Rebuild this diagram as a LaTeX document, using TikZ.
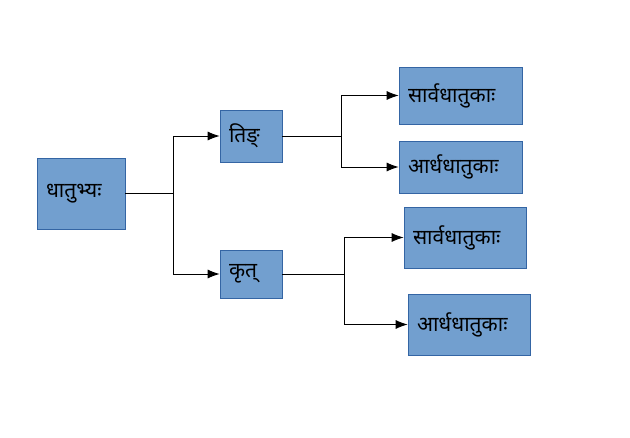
\documentclass[tikz,border=0pt]{standalone}
\usepackage{fontspec}
\newfontfamily\devfont[Script=Devanagari]{Noto Sans}
\usetikzlibrary{positioning,arrows.meta}

\definecolor{boxfill}{HTML}{729FCF}
\definecolor{boxline}{HTML}{3465A4}

\begin{document}
\begin{tikzpicture}[
  x=1pt,y=-1pt,
  box/.style={rectangle,draw=boxline,fill=boxfill,line width=0.6pt,inner xsep=9pt,align=left,font=\devfont\fontsize{21}{24}\selectfont},
  arrow/.style={-{Latex[length=12pt,width=9pt]},line width=0.9pt},
  link/.style={line width=0.9pt},
]
\useasboundingbox (0,0) rectangle (630,438);

% === ROOT ===
\node[box,text width=70pt,minimum height=71pt] (dhatu) at (81,193.5) {धातुभ्यः};

% === SECOND LEVEL ===
\node[box,text width=44pt,minimum height=52pt] (tin) at (251,136) {तिङ्};
\node[box,text width=44pt,minimum height=48pt] (krt) at (251,274) {कृत्};

% === LEAVES ===
\node[box,text width=105pt,minimum height=57pt] (sarva1) at (460.5,95.5) {सार्वधातुकाः};
\node[box,text width=105pt,minimum height=52pt] (ardha1) at (460.5,167) {आर्धधातुकाः};
\node[box,text width=104pt,minimum height=61pt] (sarva2) at (465,237.5) {सार्वधातुकाः};
\node[box,text width=104pt,minimum height=61pt] (ardha2) at (469,324.5) {आर्धधातुकाः};

% Branch points
\coordinate (j0) at (173,193.5);
\coordinate (j1) at (341,136);
\coordinate (j2) at (344,274);

% Connectors
\draw[link] (dhatu) -- (j0);
\draw[arrow] (j0) |- (tin);
\draw[arrow] (j0) |- (krt);

\draw[link] (tin) -- (j1);
\draw[arrow] (j1) |- (sarva1);
\draw[arrow] (j1) |- (ardha1);

\draw[link] (krt) -- (j2);
\draw[arrow] (j2) |- (sarva2);
\draw[arrow] (j2) |- (ardha2);

\end{tikzpicture}
\end{document}
